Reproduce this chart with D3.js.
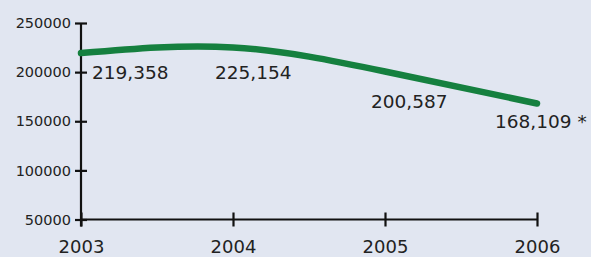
<!DOCTYPE html>
<html>
<head>
<meta charset="utf-8">
<script src="https://cdn.jsdelivr.net/npm/d3@7"></script>
<style>
  html, body { margin: 0; padding: 0; background: #e1e6f1; }
  svg { display: block; }
  text { font-family: "DejaVu Sans", sans-serif; fill: #222; }
</style>
</head>
<body>
<div id="viz"></div>
<script>
// data
var years = [2003, 2004, 2005, 2006];
var values = [219358, 225154, 200587, 168109];
var valueLabels = ["219,358", "225,154", "200,587", "168,109 *"];
var yTicks = [50000, 100000, 150000, 200000, 250000];

var width = 591, height = 257;

var svg = d3.select("#viz")
    .append("svg")
    .attr("width", width)
    .attr("height", height);

svg.append("rect")
    .attr("width", width).attr("height", height)
    .attr("fill", "#e1e6f1");

var x = d3.scaleLinear().domain([2003, 2006]).range([81, 537]);
var y = d3.scaleLinear().domain([50000, 250000]).range([219.5, 23]);

// y axis
var yAxis = d3.axisLeft(y)
    .tickValues(yTicks)
    .tickFormat(d3.format("d"))
    .tickSize(0)
    .tickPadding(10);
var gy = svg.append("g").attr("transform", "translate(" + x(2003) + ",0)").call(yAxis);
gy.select(".domain").remove();
gy.selectAll("text").attr("font-size", 14.5).attr("fill", "#222")
    .style("font-family", "'DejaVu Sans', sans-serif");
gy.selectAll(".tick").append("line")
    .attr("x1", -6).attr("x2", 6)
    .attr("stroke", "#111").attr("stroke-width", 2.2);

// x axis
var xAxis = d3.axisBottom(x)
    .tickValues(years)
    .tickFormat(d3.format("d"))
    .tickSize(0)
    .tickPadding(21);
var gx = svg.append("g").attr("transform", "translate(0," + y(50000) + ")").call(xAxis);
gx.select(".domain").remove();
gx.selectAll("text").attr("font-size", 18).attr("fill", "#222")
    .style("font-family", "'DejaVu Sans', sans-serif");
gx.selectAll(".tick").append("line")
    .attr("y1", -7).attr("y2", 7)
    .attr("stroke", "#111").attr("stroke-width", 2.2);

// axis lines
svg.append("line")
    .attr("x1", x(2003)).attr("x2", x(2003))
    .attr("y1", y(250000)).attr("y2", y(50000) + 7)
    .attr("stroke", "#111").attr("stroke-width", 2.2);
svg.append("line")
    .attr("x1", x(2003)).attr("x2", x(2006))
    .attr("y1", y(50000)).attr("y2", y(50000))
    .attr("stroke", "#111").attr("stroke-width", 2.2);

// line
var line = d3.line()
    .x(function(d, i) { return x(years[i]); })
    .y(function(d) { return y(d); })
    .curve(d3.curveNatural);

svg.append("path")
    .datum(values)
    .attr("d", line)
    .attr("fill", "none")
    .attr("stroke", "#15803f")
    .attr("stroke-width", 6.5)
    .attr("stroke-linecap", "round");

// value labels
var labelOffset = [[11, 26], [-18, 32], [-14, 36], [-42, 25]];
svg.selectAll(".vlabel")
    .data(values)
    .enter().append("text")
    .attr("class", "vlabel")
    .attr("x", function(d, i) { return x(years[i]) + labelOffset[i][0]; })
    .attr("y", function(d, i) { return y(d) + labelOffset[i][1]; })
    .attr("font-size", 18.5)
    .text(function(d, i) { return valueLabels[i]; });
</script>
</body>
</html>
